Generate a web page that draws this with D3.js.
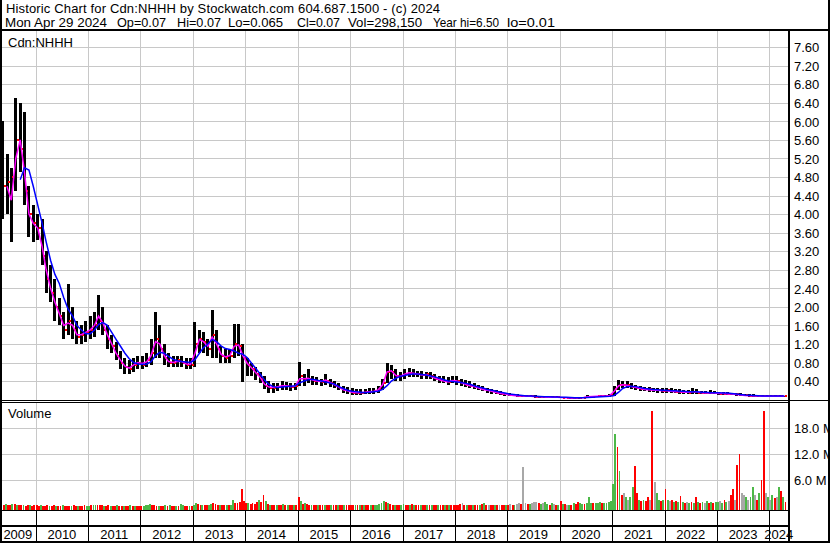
<!DOCTYPE html>
<html lang="en">
<head>
<meta charset="UTF-8">
<title>Historic Chart Cdn:NHHH</title>
<script src="https://d3js.org/d3.v7.min.js"></script>
<style>
  body { margin: 0; background: #fff; }
  svg { display: block; font-family: "Liberation Sans", Arial, sans-serif; font-size: 13px; }
</style>
</head>
<body>
<div id="chart"></div>
<script>
// monthly bars, May 2009 .. Apr 2024 (one row per year)
const hi = [
  6.0,5.3,5.0,6.5,6.4,6.2,4.6,4.2,
  4.0,3.9,3.2,2.9,2.6,2.2,1.9,2.5,2.0,1.7,1.6,1.7,
  1.8,1.9,2.25,2.0,1.6,1.4,1.25,1.05,0.9,0.85,0.9,0.95,
  0.95,1.0,1.3,1.9,1.6,1.2,1.0,0.95,0.95,0.95,0.9,0.9,
  1.68,1.5,1.45,1.3,1.94,1.5,1.15,1.1,1.1,1.62,1.62,1.2,
  0.9,0.8,0.7,0.6,0.5,0.4,0.35,0.35,0.4,0.38,0.35,0.35,
  0.82,0.55,0.65,0.5,0.48,0.45,0.55,0.45,0.4,0.35,0.3,0.28,
  0.25,0.22,0.22,0.22,0.25,0.25,0.3,0.45,0.8,0.75,0.65,0.6,
  0.65,0.68,0.65,0.62,0.62,0.6,0.6,0.55,0.5,0.5,0.48,0.5,
  0.5,0.45,0.42,0.4,0.35,0.32,0.3,0.25,0.22,0.2,0.18,0.15,
  0.14,0.12,0.12,0.1,0.1,0.09,0.09,0.08,0.08,0.07,0.07,0.07,
  0.06,0.06,0.06,0.05,0.06,0.06,0.09,0.08,0.08,0.1,0.1,0.12,
  0.3,0.42,0.4,0.4,0.35,0.32,0.3,0.28,0.27,0.26,0.26,0.25,
  0.25,0.24,0.22,0.22,0.2,0.2,0.25,0.23,0.19,0.19,0.2,0.18,
  0.17,0.17,0.16,0.15,0.15,0.14,0.13,0.12,0.11,0.1,0.1,0.1,
  0.1,0.09,0.09,0.085
];
const lo = [
  3.9,4.0,3.4,4.5,4.9,4.2,3.5,3.4,
  3.45,2.9,2.3,2.1,1.7,1.6,1.3,1.4,1.3,1.2,1.2,1.25,
  1.3,1.35,1.5,1.4,1.1,1.0,0.85,0.65,0.55,0.55,0.6,0.65,
  0.65,0.7,0.75,0.9,0.9,0.75,0.7,0.7,0.7,0.7,0.65,0.65,
  0.7,1.0,1.0,0.95,0.9,0.9,0.8,0.8,0.8,0.9,0.95,0.37,
  0.5,0.5,0.42,0.35,0.22,0.15,0.15,0.18,0.2,0.2,0.18,0.2,
  0.3,0.3,0.35,0.32,0.32,0.3,0.32,0.28,0.25,0.2,0.15,0.12,
  0.1,0.1,0.1,0.12,0.12,0.13,0.15,0.2,0.35,0.45,0.4,0.4,
  0.45,0.48,0.48,0.48,0.45,0.45,0.45,0.4,0.35,0.35,0.32,0.35,
  0.32,0.3,0.28,0.25,0.22,0.2,0.18,0.15,0.12,0.12,0.1,0.08,
  0.07,0.07,0.06,0.05,0.05,0.05,0.04,0.04,0.04,0.03,0.03,0.03,
  0.03,0.03,0.02,0.02,0.02,0.03,0.03,0.04,0.05,0.05,0.05,0.06,
  0.08,0.2,0.25,0.25,0.22,0.2,0.18,0.18,0.17,0.16,0.15,0.15,
  0.15,0.15,0.14,0.13,0.12,0.12,0.13,0.12,0.12,0.11,0.11,0.11,
  0.1,0.1,0.1,0.09,0.08,0.07,0.07,0.06,0.05,0.05,0.05,0.05,
  0.05,0.05,0.05,0.055
];
const cl = [
  4.6,4.7,4.8,5.6,5.4,4.5,4.0,3.8,
  3.7,3.1,2.6,2.3,2.0,1.8,1.5,1.7,1.5,1.35,1.4,1.45,
  1.5,1.6,1.7,1.5,1.3,1.15,0.95,0.8,0.7,0.65,0.75,0.8,
  0.75,0.85,1.0,1.3,1.1,0.9,0.8,0.8,0.85,0.8,0.75,0.75,
  1.2,1.3,1.25,1.1,1.4,1.1,0.95,0.9,0.95,1.2,1.15,0.9,
  0.75,0.65,0.55,0.45,0.3,0.25,0.25,0.28,0.3,0.3,0.28,0.3,
  0.5,0.42,0.45,0.4,0.4,0.38,0.4,0.35,0.3,0.25,0.2,0.18,
  0.15,0.15,0.15,0.16,0.17,0.18,0.22,0.35,0.6,0.6,0.5,0.5,
  0.55,0.58,0.55,0.55,0.52,0.55,0.5,0.45,0.42,0.4,0.38,0.4,
  0.4,0.35,0.32,0.3,0.28,0.25,0.22,0.2,0.18,0.15,0.13,0.12,
  0.1,0.09,0.08,0.07,0.07,0.07,0.06,0.06,0.05,0.05,0.05,0.05,
  0.04,0.04,0.03,0.03,0.04,0.04,0.06,0.06,0.07,0.07,0.07,0.09,
  0.22,0.32,0.32,0.32,0.28,0.26,0.23,0.22,0.22,0.2,0.2,0.19,
  0.2,0.18,0.17,0.17,0.16,0.15,0.17,0.15,0.15,0.14,0.14,0.14,
  0.13,0.13,0.12,0.12,0.11,0.1,0.09,0.08,0.08,0.07,0.07,0.07,
  0.07,0.07,0.07,0.07
];
// short average (magenta) and long average (blue), monthly
const maShort = [
  null,4.6,4.3,5.2,5.6,4.9,4.0,3.8,
  3.7,3.3,2.8,2.4,2.1,1.85,1.6,1.65,1.6,1.4,1.4,1.45,
  1.5,1.6,1.8,1.65,1.4,1.2,1.0,0.85,0.72,0.68,0.75,0.8,
  0.78,0.82,0.95,1.25,1.2,0.95,0.82,0.8,0.82,0.82,0.77,0.76,
  1.0,1.3,1.25,1.15,1.35,1.2,0.98,0.92,0.95,1.15,1.18,0.95,
  0.78,0.68,0.58,0.48,0.33,0.27,0.26,0.28,0.3,0.3,0.28,0.29,
  0.45,0.45,0.46,0.42,0.4,0.39,0.42,0.37,0.32,0.27,0.21,0.19,
  0.16,0.15,0.15,0.16,0.17,0.18,0.21,0.32,0.6,0.62,0.52,0.5,
  0.55,0.58,0.57,0.55,0.53,0.54,0.5,0.46,0.43,0.4,0.38,0.41,
  0.4,0.36,0.33,0.3,0.28,0.25,0.22,0.2,0.18,0.15,0.13,0.12,
  0.1,0.09,0.08,0.075,0.07,0.07,0.06,0.06,0.055,0.05,0.05,0.05,
  0.045,0.04,0.035,0.035,0.04,0.045,0.06,0.065,0.07,0.075,0.075,0.09,
  0.18,0.3,0.32,0.31,0.28,0.26,0.24,0.22,0.21,0.2,0.2,0.19,
  0.19,0.18,0.17,0.17,0.16,0.16,0.17,0.17,0.15,0.14,0.14,0.14,
  0.13,0.13,0.12,0.12,0.11,0.1,0.09,0.085,0.08,0.075,0.07,0.07,
  0.07,0.07,0.07,0.07
];
const maLong = [
  null,null,null,null,4.74,5.0,4.95,4.6,
  4.2,3.8,3.4,3.0,2.7,2.5,2.2,1.95,1.8,1.6,1.5,1.42,
  1.42,1.5,1.62,1.66,1.6,1.45,1.3,1.15,1.0,0.88,0.8,0.77,
  0.76,0.77,0.82,0.95,1.02,1.0,0.93,0.87,0.84,0.82,0.81,0.8,
  0.86,1.0,1.12,1.2,1.3,1.25,1.16,1.1,1.08,1.05,1.0,0.98,
  0.9,0.78,0.67,0.55,0.42,0.33,0.28,0.26,0.27,0.28,0.29,0.3,
  0.36,0.4,0.43,0.44,0.42,0.4,0.38,0.36,0.33,0.28,0.24,0.2,
  0.18,0.17,0.16,0.15,0.16,0.17,0.18,0.22,0.3,0.4,0.46,0.5,
  0.52,0.54,0.55,0.55,0.54,0.53,0.51,0.49,0.46,0.43,0.4,0.39,
  0.38,0.37,0.35,0.33,0.3,0.27,0.25,0.22,0.2,0.18,0.16,0.14,
  0.12,0.11,0.1,0.09,0.08,0.075,0.07,0.065,0.06,0.06,0.055,0.055,
  0.05,0.05,0.045,0.04,0.04,0.04,0.045,0.05,0.055,0.06,0.065,0.07,
  0.09,0.16,0.24,0.28,0.29,0.28,0.26,0.24,0.23,0.22,0.21,0.2,
  0.2,0.19,0.19,0.18,0.18,0.17,0.17,0.17,0.16,0.16,0.15,0.15,
  0.15,0.14,0.14,0.13,0.12,0.11,0.1,0.095,0.09,0.085,0.08,0.08,
  0.08,0.075,0.075,0.075
];
// volume in millions, two bars a month (1st-15th, 16th-end)
const volM = [
  0.3,0.2,0.4,0.3,0.2,0.5,0.4,0.2,0.2,0.3,0.2,0.1,0.2,0.2,0.1,0.2,
  0.2,0.1,0.2,0.1,0.1,0.2,0.1,0.1,0.2,0.1,0.1,0.1,0.2,0.1,0.1,0.1,0.1,0.2,0.1,0.1,0.1,0.1,0.2,0.1,
  0.1,0.2,0.2,0.3,0.3,0.2,0.2,0.1,0.1,0.2,0.1,0.1,0.1,0.2,0.1,0.1,0.1,0.1,0.1,0.2,0.1,0.1,0.1,0.1,
  0.1,0.1,0.2,0.2,0.4,0.3,0.2,0.1,0.1,0.1,0.1,0.2,0.1,0.2,0.1,0.1,0.1,0.1,0.4,0.2,0.1,0.1,0.1,0.1,
  0.3,0.6,0.4,0.3,0.2,0.2,0.2,0.2,0.5,0.8,0.4,0.3,0.2,0.2,0.2,0.3,0.2,0.3,1.3,0.8,0.6,1.0,4.0,1.2,
  0.8,0.6,0.5,0.6,0.5,1.0,1.5,1.0,2.5,1.2,0.4,0.3,0.2,0.3,0.2,0.2,0.3,0.4,0.3,0.2,0.2,0.3,0.2,0.2,
  2.0,1.2,0.5,0.8,0.4,0.3,0.3,0.3,0.2,0.3,0.2,0.2,0.3,0.2,0.2,0.2,0.3,0.2,0.2,0.2,0.2,0.2,0.2,0.2,
  0.2,0.2,0.3,0.2,0.2,0.2,0.3,0.2,0.2,0.3,0.3,0.2,0.3,0.4,0.6,1.2,1.0,0.6,0.4,0.3,0.3,0.3,0.3,0.2,
  0.4,0.3,0.3,0.3,0.4,0.3,0.3,0.3,0.2,0.3,0.3,0.2,0.2,0.3,0.2,0.2,0.3,0.2,0.2,0.2,0.2,0.3,0.2,0.2,
  0.3,0.2,0.5,0.7,0.3,0.2,0.3,0.2,0.2,0.2,0.3,0.2,0.4,0.6,0.3,0.2,0.2,0.3,0.2,0.2,0.2,0.3,0.2,0.3,
  0.3,0.4,0.3,0.2,0.4,0.8,0.5,9.0,0.6,0.4,0.5,0.8,0.9,1.0,0.6,0.5,0.8,0.9,0.4,0.3,0.6,0.5,0.3,0.3,
  1.2,0.5,0.4,0.3,0.3,0.3,0.6,0.4,1.0,0.6,0.5,0.4,0.8,2.0,0.8,0.6,0.7,0.8,0.9,0.8,0.6,0.7,1.0,1.2,
  5.0,16.6,13.7,8.0,2.5,3.0,2.0,1.5,2.0,4.5,9.3,3.0,1.5,1.2,1.5,1.2,2.0,1.5,22.0,5.5,3.0,1.5,1.2,1.5,
  4.0,1.5,1.2,1.5,1.0,1.2,1.0,2.2,1.0,0.8,1.0,0.8,1.0,0.8,2.0,1.0,0.8,1.0,0.8,1.2,0.8,1.0,0.8,1.0,
  1.0,1.2,0.8,1.5,1.0,1.2,2.5,4.0,1.5,9.5,12.0,3.0,2.5,2.0,1.5,2.0,4.5,2.5,1.5,3.0,6.0,22.0,3.0,2.0,
  1.5,2.5,1.8,2.0,4.5,3.5,2.0,1.0
];
// 1 = up day, -1 = down day, 0 = unchanged
const volDir = [
  1,-1,1,-1,-1,1,-1,1,-1,-1,1,-1,-1,1,-1,-1,
  -1,-1,1,-1,-1,-1,1,-1,-1,1,-1,-1,1,-1,-1,-1,1,-1,-1,1,-1,-1,-1,1,
  1,-1,1,1,-1,-1,-1,1,-1,-1,1,-1,-1,1,-1,-1,1,-1,-1,1,-1,1,-1,-1,
  -1,1,1,1,1,-1,-1,-1,1,-1,-1,1,-1,1,-1,-1,1,-1,1,1,-1,-1,1,-1,
  1,1,-1,-1,1,-1,-1,1,1,-1,-1,-1,1,-1,-1,1,-1,1,1,-1,-1,-1,-1,-1,
  -1,1,-1,-1,-1,-1,1,-1,-1,1,-1,1,-1,-1,1,-1,-1,1,-1,1,-1,-1,1,-1,
  -1,1,-1,1,-1,-1,1,-1,-1,1,-1,-1,1,-1,-1,1,-1,-1,1,-1,-1,1,-1,-1,
  -1,-1,1,-1,1,-1,1,-1,-1,1,-1,1,1,1,1,1,-1,1,-1,-1,1,-1,-1,1,
  1,-1,-1,1,-1,1,-1,-1,1,-1,-1,1,-1,1,-1,-1,1,-1,-1,1,-1,1,-1,-1,
  -1,-1,-1,0,-1,1,-1,-1,1,-1,-1,1,-1,1,-1,0,-1,-1,1,-1,0,-1,-1,1,
  -1,0,-1,1,0,0,-1,0,0,-1,1,0,0,0,-1,1,0,1,1,-1,1,0,-1,1,
  -1,1,-1,0,1,-1,1,-1,-1,1,1,-1,1,1,1,-1,1,1,1,-1,1,1,1,1,
  1,1,-1,1,-1,0,1,0,1,1,-1,-1,1,-1,1,-1,-1,0,-1,0,1,1,-1,1,
  -1,1,0,-1,1,-1,1,-1,1,-1,0,1,-1,1,-1,1,-1,1,0,1,-1,1,-1,1,
  1,0,1,-1,1,0,-1,-1,0,-1,-1,0,0,1,0,1,1,0,-1,1,-1,-1,0,1,
  0,1,-1,0,1,-1,1,-1
];
const priceTicks = [0.4,0.8,1.2,1.6,2.0,2.4,2.8,3.2,3.6,4.0,4.4,4.8,5.2,5.6,6.0,6.4,6.8,7.2,7.6];
const volTicks = [6, 12, 18];
const years = [2009,2010,2011,2012,2013,2014,2015,2016,2017,2018,2019,2020,2021,2022,2023,2024];

const titleLine = "Historic Chart for Cdn:NHHH by Stockwatch.com 604.687.1500 - (c) 2024";
const quoteFields = ["Mon Apr 29 2024", "Op=0.07", "Hi=0.07", "Lo=0.065", "Cl=0.07", "Vol=298,150", "Year hi=6.50", "lo=0.01"];
const quoteX = [5, 117, 177, 228, 297, 348, 433, 507];
const quoteLen = [102, 49, 44, 55, 43, 74, 66, 48];

const W = 830, H = 543;
const left = 2, right = 788;
const priceTop = 31, priceBottom = 400;
const volTop = 403, volBottom = 510;
const gridColor = "#c8c8c8";

const svg = d3.select("#chart").append("svg")
  .attr("width", W).attr("height", H);

const months = d3.timeMonth.range(new Date(2009, 4, 1), new Date(2024, 4, 1));
const slots = months.flatMap(m => [m, new Date(m.getFullYear(), m.getMonth(), 16)]);
const slotEnd = (d, i) => i + 1 < slots.length ? slots[i + 1] : new Date(2024, 4, 1);

const x = d3.scaleTime()
  .domain([new Date(2010, 0, 1), new Date(2024, 0, 1)])
  .range([35.7, 769.3]);
const y = d3.scaleLinear().domain([0, 7.6]).range([399.6, 47.2]);
const yv = d3.scaleLinear().domain([0, 18]).range([506, 428]);

const yearStarts = years.map(yr => new Date(yr, 0, 1));
const bounds = yearStarts.slice(1).map(d => Math.round(x(d)) + 0.5);

const defs = svg.append("defs");
defs.append("clipPath").attr("id", "clipPrice")
  .append("rect").attr("x", left).attr("y", priceTop).attr("width", right - left).attr("height", priceBottom - priceTop);
defs.append("clipPath").attr("id", "clipVol")
  .append("rect").attr("x", left).attr("y", volTop).attr("width", right - left).attr("height", volBottom - volTop);

// grid
const grid = svg.append("g").attr("stroke", gridColor).attr("shape-rendering", "crispEdges");
grid.selectAll(".hp").data(priceTicks).enter().append("line")
  .attr("x1", left).attr("x2", right)
  .attr("y1", d => Math.round(y(d)) + 0.5).attr("y2", d => Math.round(y(d)) + 0.5);
grid.selectAll(".hv").data(volTicks).enter().append("line")
  .attr("x1", left).attr("x2", right)
  .attr("y1", d => Math.round(yv(d)) + 0.5).attr("y2", d => Math.round(yv(d)) + 0.5);
grid.selectAll(".vp").data(bounds).enter().append("line")
  .attr("x1", d => d).attr("x2", d => d).attr("y1", priceTop).attr("y2", priceBottom);
grid.selectAll(".vv").data(bounds).enter().append("line")
  .attr("x1", d => d).attr("x2", d => d).attr("y1", volTop).attr("y2", volBottom);

// price bars
const price = svg.append("g").attr("clip-path", "url(#clipPrice)");
const mid = months.map(m => x(d3.timeDay.offset(m, 14)));
price.append("g").attr("fill", "#000").attr("shape-rendering", "crispEdges")
  .selectAll("rect").data(months).enter().append("rect")
  .attr("x", (d, i) => mid[i] - 1.5).attr("width", 3)
  .attr("y", (d, i) => y(hi[i]))
  .attr("height", (d, i) => Math.max(1, y(lo[i]) - y(hi[i])));
price.append("g").attr("fill", "#ff0000").attr("shape-rendering", "crispEdges")
  .selectAll("rect").data(months).enter().append("rect")
  .attr("x", (d, i) => mid[i] + 1).attr("width", 2)
  .attr("y", (d, i) => y(cl[i]) - 1).attr("height", 2);

const line = arr => d3.line()
  .defined((d, i) => arr[i] != null)
  .x((d, i) => mid[i])
  .y((d, i) => y(arr[i]));
price.append("path").datum(months).attr("d", line(maShort))
  .attr("fill", "none").attr("stroke", "#ff00ff").attr("stroke-width", 1.5);
price.append("path").datum(months).attr("d", line(maLong))
  .attr("fill", "none").attr("stroke", "#0000ff").attr("stroke-width", 1.5);

// volume bars
const dirColor = { "1": "#4db848", "-1": "#ff0000", "0": "#a8a8a8" };
svg.append("g").attr("clip-path", "url(#clipVol)").attr("shape-rendering", "crispEdges")
  .selectAll("rect").data(slots).enter().append("rect")
  .attr("x", d => x(d))
  .attr("width", (d, i) => Math.max(1, x(slotEnd(d, i)) - x(d) - 0.3))
  .attr("y", (d, i) => yv(volM[i]))
  .attr("height", (d, i) => volBottom - yv(volM[i]))
  .attr("fill", (d, i) => dirColor[volDir[i]]);

// frame
const frame = svg.append("g").attr("fill", "#000").attr("shape-rendering", "crispEdges");
frame.append("rect").attr("x", 0).attr("y", 29).attr("width", W).attr("height", 2);
frame.append("rect").attr("x", 0).attr("y", 400).attr("width", W).attr("height", 1);
frame.append("rect").attr("x", 0).attr("y", 402).attr("width", right).attr("height", 1);
frame.append("rect").attr("x", 0).attr("y", volBottom).attr("width", right).attr("height", 1);
frame.append("rect").attr("x", 0).attr("y", 525).attr("width", right).attr("height", 2);
frame.append("rect").attr("x", 0).attr("y", 0).attr("width", 2).attr("height", H);
frame.append("rect").attr("x", right).attr("y", 29).attr("width", 2).attr("height", H - 29);
frame.append("rect").attr("x", W - 2).attr("y", 0).attr("width", 2).attr("height", H);
frame.append("rect").attr("x", 0).attr("y", H - 2).attr("width", W).attr("height", 2);
frame.selectAll(".sep").data(bounds).enter().append("rect")
  .attr("x", d => d - 0.5).attr("y", volBottom).attr("width", 1).attr("height", H - volBottom);

// axes on the right
const pAxis = svg.append("g").attr("transform", `translate(${right + 2},0)`)
  .call(d3.axisRight(y).tickValues(priceTicks).tickFormat(d3.format(".2f")).tickSize(0).tickPadding(4));
const vAxis = svg.append("g").attr("transform", `translate(${right + 2},0)`)
  .call(d3.axisRight(yv).tickValues(volTicks).tickFormat(d => d.toFixed(1) + " M").tickSize(0).tickPadding(4));
[pAxis, vAxis].forEach(g => {
  g.select(".domain").remove();
  g.attr("font-family", null).attr("font-size", null);
  g.selectAll("text").attr("fill", "#000").attr("dy", "0.36em");
});

// year labels
const yearEdges = [0].concat(yearStarts.slice(1).map(d => x(d)), [right]);
svg.append("g").selectAll("text").data(years).enter().append("text")
  .attr("x", (d, i) => (yearEdges[i] + yearEdges[i + 1]) / 2)
  .attr("y", 538.5)
  .attr("text-anchor", "middle")
  .text(d => d);

// header text
svg.append("text").attr("x", 6).attr("y", 12.5)
  .attr("textLength", 434).attr("lengthAdjust", "spacing").text(titleLine);
svg.append("g").selectAll("text").data(quoteFields).enter().append("text")
  .attr("x", (d, i) => quoteX[i]).attr("y", 26.5)
  .attr("textLength", (d, i) => quoteLen[i]).attr("lengthAdjust", "spacingAndGlyphs")
  .text(d => d);
svg.append("text").attr("x", 8).attr("y", 47).text("Cdn:NHHH");
svg.append("text").attr("x", 8).attr("y", 418).text("Volume");
</script>
</body>
</html>
